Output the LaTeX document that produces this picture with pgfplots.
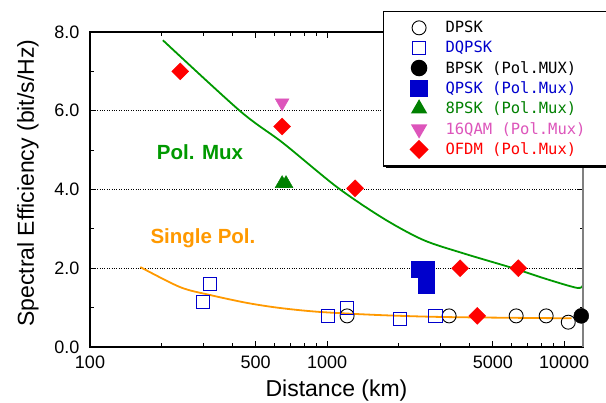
\documentclass[border=0pt]{standalone}
\usepackage{fontspec}
\usepackage{pgfplots}
\pgfplotsset{compat=1.18}
\usetikzlibrary{shadows}
\setmainfont{Liberation Sans}
\newfontfamily\lmono{DejaVu Sans Mono}

\definecolor{qblue}{RGB}{0,0,204}
\definecolor{pgreen}{RGB}{0,128,0}
\definecolor{cgreen}{RGB}{0,153,0}
\definecolor{qpink}{RGB}{221,85,187}
\definecolor{sorange}{RGB}{255,153,0}

\begin{document}
\begin{tikzpicture}
\begin{axis}[scale only axis,width=493pt,height=315pt,
	xmode=log,xmin=100,xmax=12000,ymin=0,ymax=8,
	xtick={100,500,1000,5000,10000},xticklabels={100,500,1000,5000,10000},
	minor xtick={200,300,400,600,700,800,900,2000,3000,4000,6000,7000,8000,9000},
	ytick={0,2,4,6,8},minor ytick={1,3,5,7},
	/pgf/number format/assume math mode=true,
	tick label style={font=\fontsize{18}{20}\selectfont},
	yticklabel style={xshift=-7pt,/pgf/number format/.cd,fixed,fixed zerofill,precision=1},
	xticklabel style={yshift=-5pt},
	tick align=inside,major tick length=6pt,minor tick length=3.5pt,
	every tick/.style={black,line width=0.8pt},
	axis line style={line width=1.1pt},
	ymajorgrids,major grid style={dotted,black,line width=0.9pt},
	xlabel={Distance (km)},ylabel={Spectral Efficiency (bit/s/Hz)},
	every axis x label/.style={at={(axis description cs:0.5,-0.137)},anchor=center,
		font=\fontsize{23}{26}\selectfont},
	every axis y label/.style={at={(axis description cs:-0.126,0.52)},rotate=90,anchor=center,
		font=\fontsize{23}{26}\selectfont},
	clip=false,
	legend cell align=left,
	legend image code/.code={\draw[mark repeat=2,mark phase=2,#1] plot coordinates {(0pt,0pt) (14pt,0pt) (28pt,0pt)};},
	legend style={at={(0.594,1.068)},anchor=north west,draw=black,line width=1.5pt,
		font=\lmono\fontsize{15.5}{18}\selectfont,row sep=3pt,column sep=16pt,
		inner xsep=27pt,inner ysep=8pt,
		drop shadow={shadow xshift=2pt,shadow yshift=-2pt,fill=black,opacity=1}},
]
% DPSK
\addplot[only marks,mark=o,mark size=7pt,black,line width=0.9pt] coordinates {
(1214,0.79) (3270,0.79) (6270,0.79) (8390,0.79) (10400,0.63)};
\addlegendentry{DPSK}
% DQPSK
\addplot[only marks,mark=square,mark size=6.8pt,qblue,line width=0.9pt] coordinates {
(321,1.60) (300,1.14) (1009,0.79) (1214,0.99) (2030,0.71) (2858,0.79)};
\addlegendentry[text=qblue]{DQPSK}
% BPSK pol mux
\addplot[only marks,mark=*,mark size=7.5pt,black] coordinates {(11800,0.79)};
\addlegendentry{BPSK (Pol.MUX)}
% QPSK pol mux
\addplot[only marks,mark=square*,mark size=8pt,qblue] coordinates {
(2445,1.98) (2620,1.98) (2620,1.57)};
\addlegendentry[text=qblue]{QPSK (Pol.Mux)}
% 8PSK pol mux
\addplot[only marks,mark=triangle*,mark size=8pt,pgreen] coordinates {
(646,4.15) (671,4.15)};
\addlegendentry[text=pgreen]{8PSK (Pol.Mux)}
% 16QAM pol mux
\addplot[only marks,mark=triangle*,mark size=8pt,qpink,mark options={rotate=180}] coordinates {
(646,6.2)};
\addlegendentry[text=qpink]{\makebox[220pt][l]{16QAM (Pol.Mux)}}
% OFDM pol mux
\addplot[only marks,mark=square*,mark size=6pt,red,mark options={rotate=45}] coordinates {
(240,7.0) (646,5.6) (1312,4.03) (3640,2.0) (6400,2.0) (4300,0.79)};
\addlegendentry[text=red]{OFDM (Pol.Mux)}
% trend curves
\addplot[forget plot,cgreen,line width=1.8pt,smooth] coordinates {
(203,7.79) (430,5.99) (652,5.18) (1101,4.06) (1722,3.27) (2540,2.72) (3750,2.38)
(6100,2.0) (8470,1.72) (11350,1.50) (12000,1.57)};
\addplot[forget plot,sorange,line width=1.8pt,smooth] coordinates {
(163,2.03) (240,1.52) (321,1.32) (459,1.12) (634,0.99) (934,0.89) (1675,0.81)
(3206,0.76) (9910,0.73) (10300,0.73)};
\node[anchor=west,text=cgreen,font=\bfseries\fontsize{20.5}{23}\selectfont] at (axis cs:185,4.95) {Pol. Mux};
\node[anchor=west,text=sorange,font=\bfseries\fontsize{20.5}{23}\selectfont] at (axis cs:174,2.77) {Single Pol.};
\draw[gray,line width=1.1pt] (rel axis cs:1,0) -- (rel axis cs:1,0.86);
\end{axis}
\pgfresetboundingbox
\path[use as bounding box] (-90pt,-56pt) rectangle (516pt,347pt);
\end{tikzpicture}
\end{document}
